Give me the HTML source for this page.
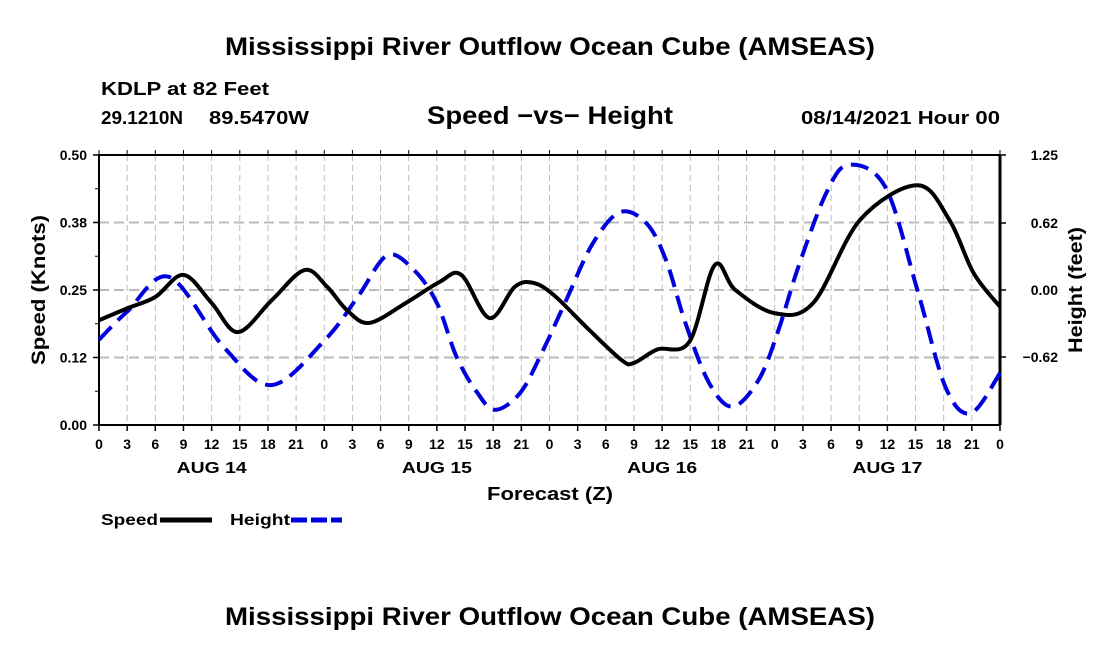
<!DOCTYPE html>
<html><head><meta charset="utf-8"><style>
body{margin:0;background:#fff;}
svg text{font-family:"Liberation Sans",sans-serif;font-weight:bold;fill:#000;}
</style></head><body>
<svg id="c" width="1100" height="650" viewBox="0 0 1100 650">
<text x="225" y="55" font-size="25" textLength="650" lengthAdjust="spacingAndGlyphs">Mississippi River Outflow Ocean Cube (AMSEAS)</text>
<text x="101" y="95" font-size="18" textLength="168" lengthAdjust="spacingAndGlyphs">KDLP at 82 Feet</text>
<text x="101" y="124" font-size="18" textLength="82" lengthAdjust="spacingAndGlyphs">29.1210N</text>
<text x="209" y="124" font-size="18" textLength="100" lengthAdjust="spacingAndGlyphs">89.5470W</text>
<text x="427" y="124" font-size="25" textLength="246" lengthAdjust="spacingAndGlyphs">Speed −vs− Height</text>
<text x="801" y="124" font-size="18" textLength="199" lengthAdjust="spacingAndGlyphs">08/14/2021 Hour 00</text>
<g id="grid"></g><g id="axes"></g><g id="series"></g>
<text transform="translate(45,290) rotate(-90)" font-size="19" text-anchor="middle" textLength="150" lengthAdjust="spacingAndGlyphs">Speed (Knots)</text>
<text transform="translate(1082,290) rotate(-90)" font-size="19" text-anchor="middle" textLength="126" lengthAdjust="spacingAndGlyphs">Height (feet)</text>
<text x="487" y="500" font-size="18" textLength="126" lengthAdjust="spacingAndGlyphs">Forecast (Z)</text>
<text x="101" y="525" font-size="16" textLength="57" lengthAdjust="spacingAndGlyphs">Speed</text>
<line x1="160" y1="520" x2="212" y2="520" stroke="#000" stroke-width="5"/>
<text x="230" y="525" font-size="16" textLength="60" lengthAdjust="spacingAndGlyphs">Height</text>
<line x1="291" y1="520" x2="342" y2="520" stroke="#0000dd" stroke-width="5" stroke-dasharray="16,4"/>
<text x="225" y="625" font-size="25" textLength="650" lengthAdjust="spacingAndGlyphs">Mississippi River Outflow Ocean Cube (AMSEAS)</text>
</svg>
<script>
const speedHours=[0,3,6,9,12,14.8,18.4,21.9,24.3,26.4,28.8,32.7,36.3,38.6,41.6,44.3,46.3,48.5,52,55.7,57,59.5,62.9,65.6,67.8,72,76.1,81.1,87.2,90.6,93.2,96];
const speedValues=[0.194,0.216,0.237,0.278,0.226,0.172,0.231,0.287,0.256,0.213,0.189,0.226,0.265,0.278,0.198,0.256,0.263,0.24,0.18,0.12,0.115,0.14,0.154,0.296,0.25,0.207,0.226,0.38,0.444,0.38,0.281,0.219];
const heightHours=[0,3,7.5,13.3,18.4,24.1,27.6,30.7,33.5,36,38.1,40.3,42.2,44.9,47.3,49.8,52.6,55.5,58.3,60.4,62.5,65,67.5,70.3,72.4,74.5,77.5,79.9,83.8,87.2,90.2,92.9,96];
const heightValues=[-0.46,-0.2,0.12,-0.53,-0.88,-0.46,-0.06,0.32,0.19,-0.12,-0.62,-0.95,-1.11,-0.95,-0.56,-0.09,0.43,0.72,0.62,0.28,-0.31,-0.86,-1.08,-0.83,-0.37,0.21,0.9,1.16,0.95,0,-0.9,-1.14,-0.77];
const leftTicks=["0.00","0.12","0.25","0.38","0.50"];
const rightTicks=["-0.62","0.00","0.62","1.25"];
const dayLabels=["AUG 14","AUG 15","AUG 16","AUG 17"];
const X0=99,X1=1000,Y0=425,Y1=155;
const xs=h=>X0+h*(X1-X0)/96;
const ysp=v=>Y0-v*(Y0-Y1)/0.5;
const yht=v=>290-v*(Y0-Y1)/2.5;
const NS="http://www.w3.org/2000/svg";
function mk(p,t,a){const e=document.createElementNS(NS,t);for(const k in a)e.setAttribute(k,a[k]);p.appendChild(e);return e;}
const grid=document.getElementById('grid'),axes=document.getElementById('axes'),ser=document.getElementById('series');
for(let i=1;i<32;i++){const l=mk(grid,'line',{x1:xs(i*3),x2:xs(i*3),y1:Y1,y2:Y0,stroke:'#bbb','stroke-width':1,'stroke-dasharray':'6,4'});

}
for(let i=1;i<4;i++){const y=Y0-i*(Y0-Y1)/4;const l=mk(grid,'line',{x1:X0,x2:X1,y1:y,y2:y,stroke:'#bbb','stroke-width':2,'stroke-dasharray':'10,5'});

}
const ax=[[X0,Y1,X0,Y0,2],[X1,Y1,X1,Y0,3],[X0,Y0,X1,Y0,2],[X0,Y1,X1,Y1,2]];
ax.forEach(a=>{const l=mk(axes,'line',{x1:a[0],y1:a[1],x2:a[2],y2:a[3],stroke:'#000','stroke-width':a[4]});

});
leftTicks.forEach((t,i)=>{const y=Y0-i*(Y0-Y1)/4;
const tx=mk(axes,'text',{x:87,y:y+5,'font-size':14,'text-anchor':'end'});tx.textContent=t;


mk(axes,'line',{x1:X0-6,x2:X0,y1:y,y2:y,stroke:'#000','stroke-width':1.5});
if(i<4)mk(axes,'line',{x1:X0-4,x2:X0,y1:y-(Y0-Y1)/8,y2:y-(Y0-Y1)/8,stroke:'#000','stroke-width':1});});
rightTicks.forEach(t=>{const y=yht(parseFloat(t));
const tx=mk(axes,'text',{x:1058,y:y+5,'font-size':14,'text-anchor':'end'});tx.textContent=t.replace('-','−');


mk(axes,'line',{x1:X1,x2:X1+6,y1:y,y2:y,stroke:'#000','stroke-width':1.5});});
for(let i=0;i<=32;i++){const x=xs(i*3);mk(axes,'line',{x1:x,x2:x,y1:Y0,y2:Y0+6,stroke:'#000','stroke-width':1.5});
mk(axes,'line',{x1:x,x2:x,y1:Y1-5,y2:Y1,stroke:'#000','stroke-width':1});
const tx=mk(axes,'text',{x:x,y:449,'font-size':14,'text-anchor':'middle'});tx.textContent=String((i*3)%24);

}
dayLabels.forEach((d,i)=>{const tx=mk(axes,'text',{x:xs(12+24*i)-35,y:473,'font-size':16,textLength:70,lengthAdjust:'spacingAndGlyphs'});tx.textContent=d;

});
function path(hs,vs,yf){const p=hs.map((h,i)=>[xs(h),yf(vs[i])]);let d='M'+p[0][0]+','+p[0][1];
for(let i=0;i<p.length-1;i++){const a=p[Math.max(0,i-1)],b=p[i],c=p[i+1],e=p[Math.min(p.length-1,i+2)];
d+=` C${b[0]+(c[0]-a[0])/6},${b[1]+(c[1]-a[1])/6} ${c[0]-(e[0]-b[0])/6},${c[1]-(e[1]-b[1])/6} ${c[0]},${c[1]}`;}return d;}
const hp=mk(ser,'path',{d:path(heightHours,heightValues,yht),fill:'none',stroke:'#0000dd','stroke-width':4,'stroke-dasharray':'18,9'});


const sp=mk(ser,'path',{d:path(speedHours,speedValues,ysp),fill:'none',stroke:'#000','stroke-width':4});


</script>
</body></html>
